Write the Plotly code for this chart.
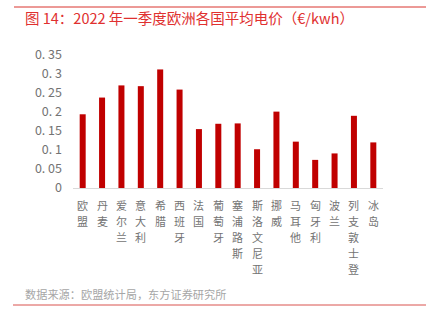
import plotly.graph_objects as go

countries = ["欧盟", "丹麦", "爱尔兰", "意大利", "希腊", "西班牙", "法国", "葡萄牙",
             "塞浦路斯", "斯洛文尼亚", "挪威", "马耳他", "匈牙利", "波兰", "列支敦士登", "冰岛"]
prices = [0.194, 0.238, 0.270, 0.268, 0.312, 0.259, 0.155, 0.169,
          0.170, 0.102, 0.201, 0.122, 0.074, 0.091, 0.190, 0.120]
y_ticks = [0, 0.05, 0.1, 0.15, 0.2, 0.25, 0.3, 0.35]
y_tick_labels = ["0", "0. 05", "0. 1", "0. 15", "0. 2", "0. 25", "0. 3", "0. 35"]

title_text = "图 14：2022 年一季度欧洲各国平均电价（€/kwh）"
source_text = "数据来源：欧盟统计局，东方证券研究所"

font_cn = "Noto Sans CJK SC, Liberation Sans, sans-serif"

# plot area geometry (pixels)
L, R, T, B = 73, 43, 55, 133
W, H = 426, 321
PW, PH = W - L - R, H - T - B
AXIS_Y = T + PH  # pixel row of the x axis


def py(p):
    """pixel row -> paper y"""
    return (AXIS_Y - p) / PH


def px(p):
    """pixel column -> paper x"""
    return (p - L) / PW


fig = go.Figure(go.Bar(
    x=countries,
    y=prices,
    marker=dict(color="#C00000", line=dict(width=0)),
    width=0.31,
))

annotations = []
# vertical (stacked) category labels, one character per text
first_center = 205
step = 16
for c in countries:
    for i, ch in enumerate(c):
        annotations.append(dict(
            text=ch, x=c, xref="x", y=py(first_center + i * step), yref="paper",
            xanchor="center", yanchor="middle", showarrow=False,
            font=dict(size=11, color="#737373", family=font_cn),
        ))

annotations += [
    dict(text=title_text, xref="paper", yref="paper",
         x=px(23), y=py(18), xanchor="left", yanchor="middle",
         showarrow=False, font=dict(size=14.5, color="#E0302F", family=font_cn)),
    dict(text=source_text, xref="paper", yref="paper",
         x=px(23), y=py(294), xanchor="left", yanchor="middle",
         showarrow=False, font=dict(size=11.2, color="#A6A6A6", family=font_cn)),
]

fig.update_layout(
    width=W, height=H,
    margin=dict(l=L, r=R, t=T, b=B),
    paper_bgcolor="white", plot_bgcolor="white",
    showlegend=False,
    font=dict(family=font_cn, color="#737373"),
    xaxis=dict(
        showticklabels=False,
        showline=True, linecolor="#D9D9D9", linewidth=1,
        ticks="", showgrid=False, zeroline=False,
    ),
    yaxis=dict(
        range=[0, 0.35],
        tickmode="array",
        tickvals=y_ticks,
        ticktext=y_tick_labels,
        tickfont=dict(size=12.5, color="#737373", family=font_cn),
        showline=False, showgrid=False, zeroline=False, ticks="",
        ticklabelstandoff=10,
    ),
    shapes=[
        dict(type="line", xref="paper", yref="paper",
             x0=px(14), x1=px(426), y0=py(7), y1=py(7),
             line=dict(color="#D9352F", width=1)),
        dict(type="line", xref="paper", yref="paper",
             x0=px(13), x1=px(426), y0=py(305), y1=py(305),
             line=dict(color="#D9534F", width=1)),
    ],
    annotations=annotations,
)

fig.write_html("out.html")
